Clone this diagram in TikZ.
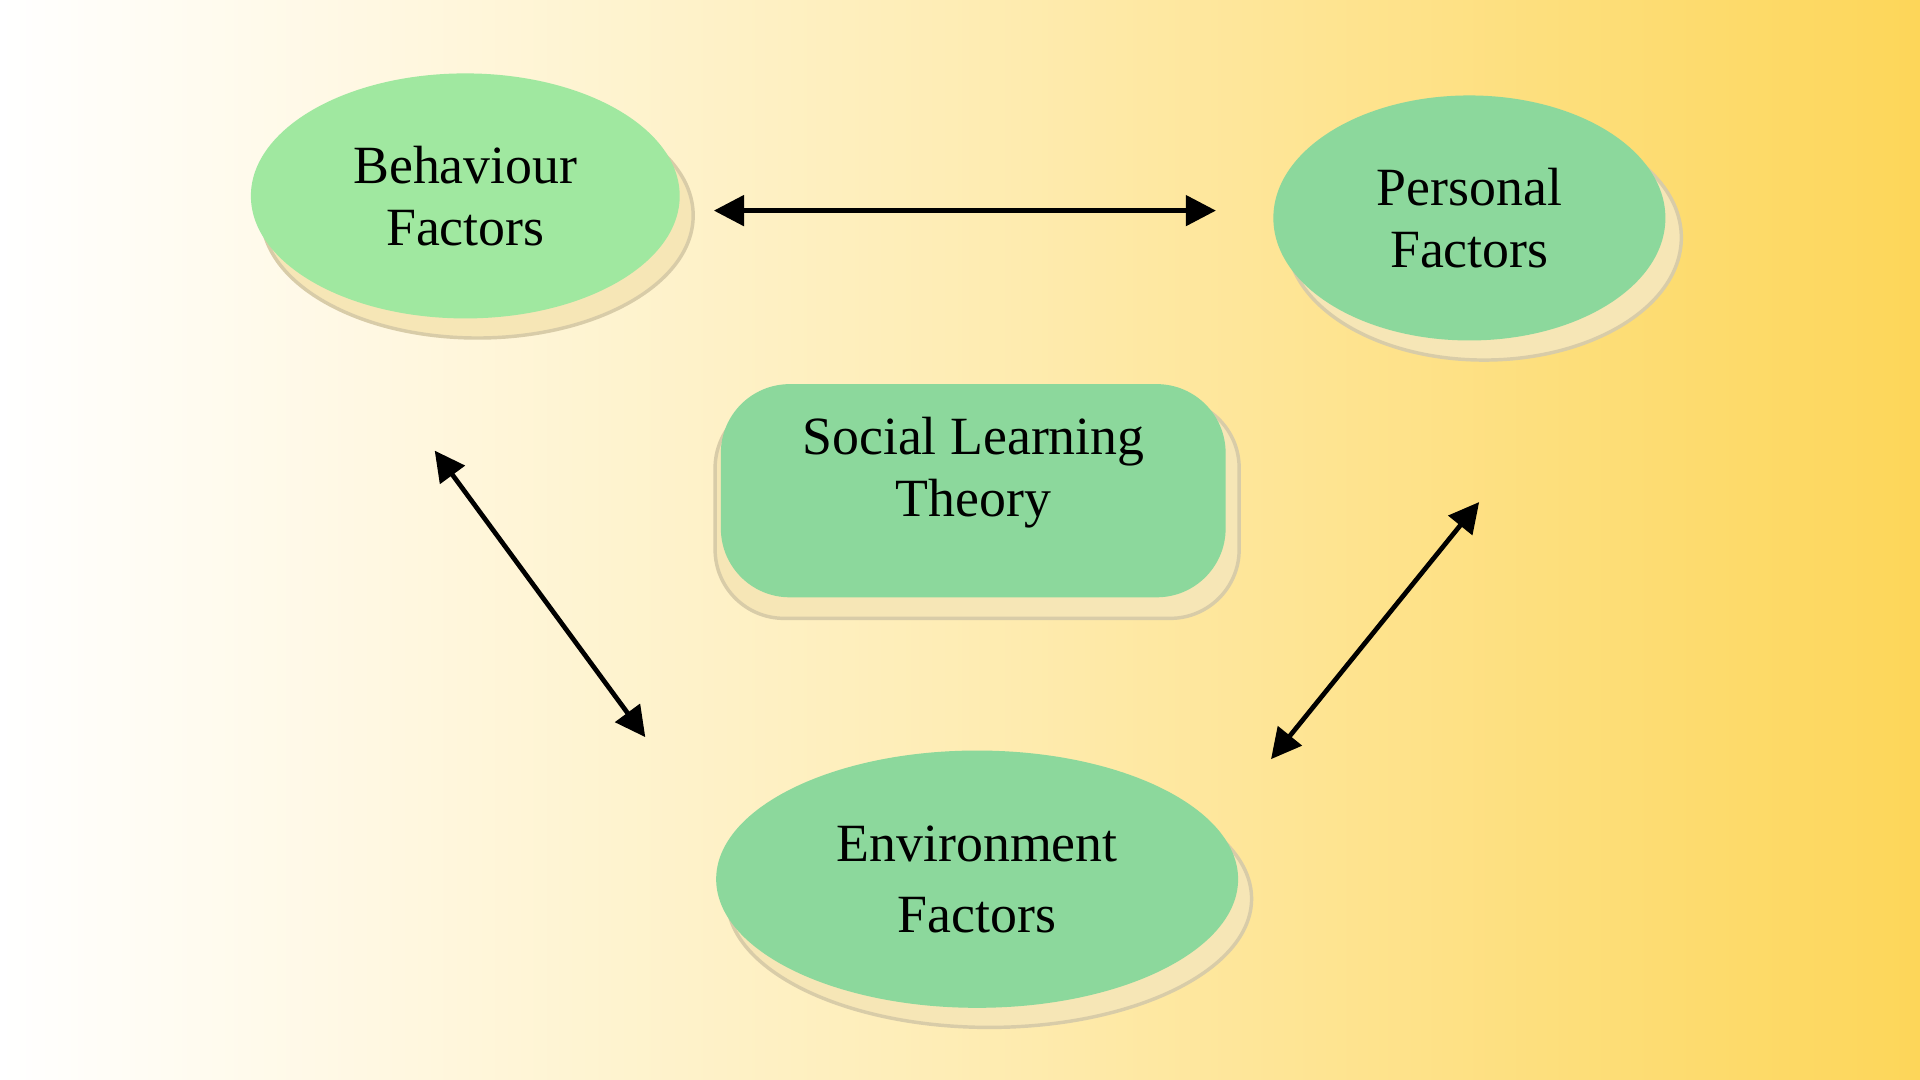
\documentclass[tikz,border=0pt]{standalone}
\usepackage{fontspec}
\setmainfont{Liberation Serif}
\usetikzlibrary{shapes.geometric,arrows.meta}
\definecolor{bgR}{HTML}{FDD659}
\definecolor{gA}{HTML}{A0E8A0}
\definecolor{gB}{HTML}{8CD89C}
\definecolor{shd}{HTML}{F6E6B6}
\definecolor{shdE}{HTML}{D8CCA8}
\tikzset{
  lbl/.style={font=\fontsize{12.5}{14.5}\selectfont, align=center, text=black},
  shadowe/.style={fill=shd, draw=shdE, line width=0.8pt},
  arr/.style={{Triangle[length=7pt,width=7pt]}-{Triangle[length=7pt,width=7pt]}, line width=1.1pt, black}
}
\begin{document}
\begin{tikzpicture}[x=0.01cm,y=-0.01cm]
\shade[left color=white, right color=bgR, middle color=bgR!45!white, shading angle=90] (0,0) rectangle (1568,882);
\useasboundingbox (0,0) rectangle (1568,882);
% shadows
\fill[shadowe] (390,176) ellipse [x radius=1.76cm, y radius=1.0cm];
\fill[shadowe] (1212,194) ellipse [x radius=1.61cm, y radius=1.0cm];
\fill[shadowe] (808,734) ellipse [x radius=2.14cm, y radius=1.05cm];
\fill[shadowe, rounded corners=16] (584,326) rectangle (1012,505);
% shapes
\node[ellipse, fill=gA, minimum width=3.5cm, minimum height=2.0cm, inner sep=0, lbl] (beh) at (380,160) {Behaviour\\Factors};
\node[ellipse, fill=gB, minimum width=3.2cm, minimum height=2.0cm, inner sep=0, lbl] (per) at (1200,178) {Personal\\Factors};
\node[ellipse, fill=gB, minimum width=4.26cm, minimum height=2.1cm, inner sep=0, lbl, font=\fontsize{12.5}{16.5}\selectfont] (env) at (798,718) {Environment\\Factors};
\node[rectangle, rounded corners=16, fill=gB, minimum width=4.12cm, minimum height=1.74cm, inner sep=0, anchor=north west] (slt) at (588,313) {};
\node[lbl] (sltt) at (795,386) {Social Learning\\Theory};
% arrows
\coordinate (a1) at (583,172); \coordinate (a2) at (993,172);
\coordinate (b1) at (355,368); \coordinate (b2) at (527,602);
\coordinate (c1) at (1208,410); \coordinate (c2) at (1038,620);
\draw[arr] (a1) -- (a2);
\draw[arr] (b1) -- (b2);
\draw[arr] (c1) -- (c2);
\end{tikzpicture}
\end{document}
